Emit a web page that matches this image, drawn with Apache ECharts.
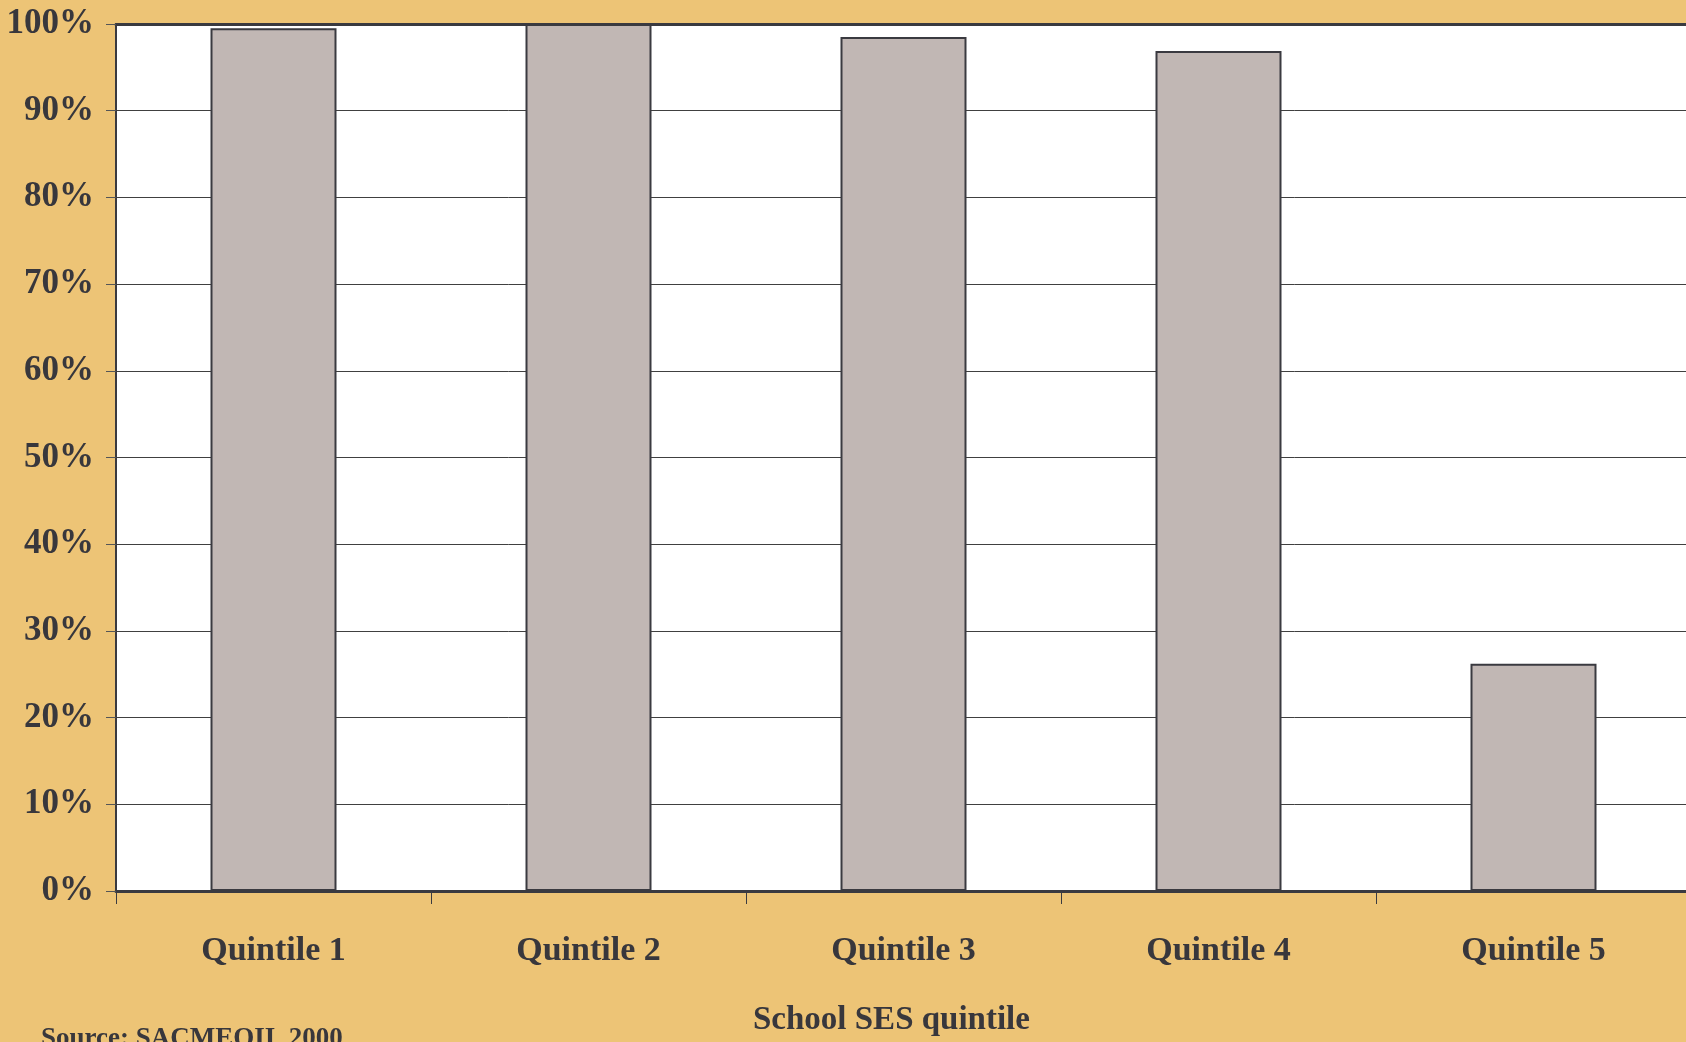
<!DOCTYPE html>
<html><head><meta charset="utf-8">
<script src="https://cdn.jsdelivr.net/npm/echarts@6/dist/echarts.min.js"></script>
<style>html,body{margin:0;padding:0;background:#EDC476;}#c{width:1686px;height:1042px;}</style>
</head><body><div id="c"></div>
<script>
const categories = ['Quintile 1','Quintile 2','Quintile 3','Quintile 4','Quintile 5'];
const values = [99.5, 100, 98.5, 96.9, 26.2];
const yTicks = [0,10,20,30,40,50,60,70,80,90,100];
const xAxisTitle = 'School SES quintile';
const sourceText = 'Source: SACMEQII, 2000';

const txt = '#38373C';
const font = '"Liberation Serif","Times New Roman",serif';
const chart = echarts.init(document.getElementById('c'));
chart.setOption({
  backgroundColor: '#EDC476',
  animation: false,
  grid: {left:116, top:24, width:1575, height:867, outerBoundsMode:'none', containLabel:false,
         show:true, backgroundColor:'#FFFFFF', borderWidth:0},
  xAxis: [{
    type:'category', data:categories, boundaryGap:true,
    axisLine:{lineStyle:{color:'#3A3A40', width:3}},
    axisTick:{show:true, length:13, inside:false, lineStyle:{color:'#3A3A40', width:1}},
    axisLabel:{color:txt, fontFamily:font, fontWeight:'bold', fontSize:34, margin:43}
  },{
    type:'category', data:categories, position:'top',
    axisLine:{lineStyle:{color:'#3A3A40', width:3}},
    axisTick:{show:false}, axisLabel:{show:false}
  }],
  yAxis: {
    type:'value', min:0, max:100, interval:10,
    axisLine:{show:true, lineStyle:{color:'#3A3A40', width:2}},
    axisTick:{show:true, length:10, lineStyle:{color:'#555', width:1}},
    splitLine:{show:true, lineStyle:{color:'#404040', width:1}},
    axisLabel:{color:txt, fontFamily:font, fontWeight:'bold', fontSize:35, margin:22,
      formatter: v => yTicks.includes(v) ? v + '%' : ''}
  },
  series: [{
    type:'bar', data:values, barWidth:'40%',
    itemStyle:{color:'#C1B7B4', borderColor:'#3A3A40', borderWidth:2}
  }],
  graphic: [
    {type:'text', left:753, top:1004, style:{text:xAxisTitle, fill:txt, font:'bold 33px "Liberation Serif", serif'}},
    {type:'text', left:41, top:1026, style:{text:sourceText, fill:txt, font:'bold 27px "Liberation Serif", serif'}}
  ]
});
</script></body></html>
